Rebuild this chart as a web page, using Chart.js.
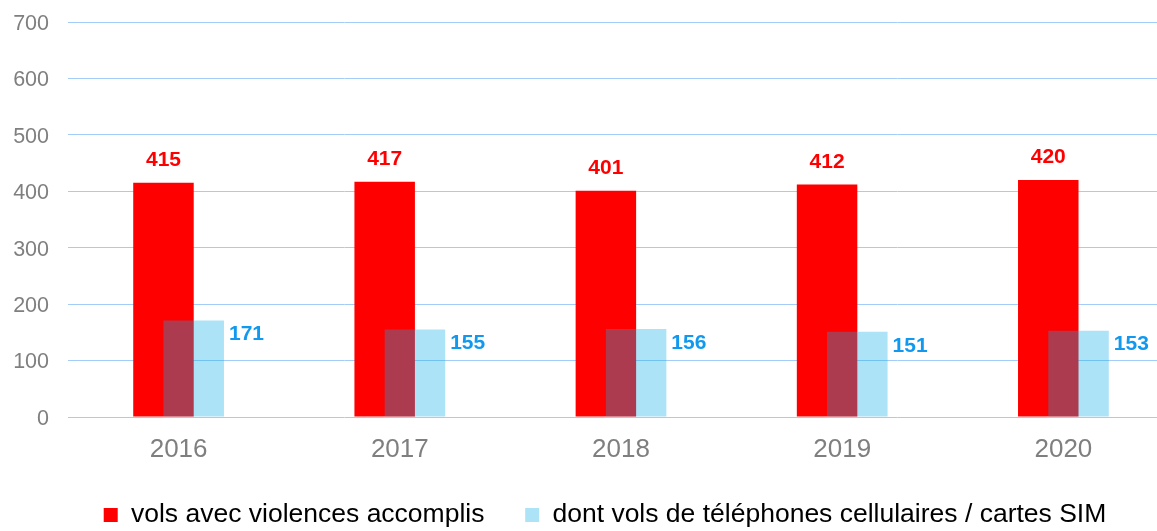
<!DOCTYPE html>
<html>
<head>
<meta charset="utf-8">
<script src="https://cdn.jsdelivr.net/npm/chart.js@4/dist/chart.umd.min.js"></script>
<style>
  html, body { margin: 0; padding: 0; background: #ffffff; overflow: hidden; }
  #wrap { position: relative; width: 1174px; height: 531px; }
</style>
</head>
<body>
<div id="wrap"><canvas id="c"></canvas></div>
<script>
const categories = ['2016', '2017', '2018', '2019', '2020'];
const volsViolences = [415, 417, 401, 412, 420];
const volsTelephones = [171, 155, 156, 151, 153];
const seriesNames = ['vols avec violences accomplis', 'dont vols de téléphones cellulaires / cartes SIM'];
const yTicks = [0, 100, 200, 300, 400, 500, 600, 700];

const FONT = '"Liberation Sans", Arial, sans-serif';
const RED = '#FF0000';
const BLUE_FILL = 'rgba(15,172,231,0.34)';
const RED_LABEL = '#FF0000';
const BLUE_LABEL = '#1199F0';
const GRID = '#A3CDF6';

// draw red series first so the translucent blue series sits on top of it
const drawOrder = {
  id: 'drawOrder',
  beforeDatasetDraw(chart, args) {
    if (args.index === 0) return false;
    if (args.index === 1) chart.getDatasetMeta(0).controller.draw();
  }
};

const legendShift = {
  id: 'legendShift',
  afterLayout(chart) {
    if (chart.legend) { chart.legend.left += 13; chart.legend.right += 13; }
  }
};

const valueLabels = {
  id: 'valueLabels',
  afterDatasetsDraw(chart) {
    const ctx = chart.ctx;
    ctx.save();
    ctx.font = 'bold 21px ' + FONT;
    const m0 = chart.getDatasetMeta(0);
    m0.data.forEach((el, i) => {
      const p = el.getProps(['x', 'y'], true);
      ctx.fillStyle = RED_LABEL;
      ctx.textAlign = 'center';
      ctx.textBaseline = 'alphabetic';
      ctx.fillText(String(volsViolences[i]), p.x, p.y - 17);
    });
    const m1 = chart.getDatasetMeta(1);
    m1.data.forEach((el, i) => {
      const p = el.getProps(['x', 'y', 'width'], true);
      ctx.fillStyle = BLUE_LABEL;
      ctx.textAlign = 'left';
      ctx.textBaseline = 'middle';
      ctx.fillText(String(volsTelephones[i]), p.x + p.width / 2 + 5, p.y + 14);
    });
    ctx.restore();
  }
};

new Chart(document.getElementById('c'), {
  type: 'bar',
  data: {
    labels: categories,
    datasets: [
      { label: seriesNames[0], data: volsViolences, backgroundColor: RED, borderWidth: 0,
        categoryPercentage: 0.2735, barPercentage: 2 },
      { label: seriesNames[1], data: volsTelephones, backgroundColor: BLUE_FILL, borderWidth: 0,
        categoryPercentage: 0.2735, barPercentage: 2 }
    ]
  },
  options: {
    responsive: true,
    maintainAspectRatio: false,
    animation: false,
    layout: { padding: { top: 22, left: 10, right: 0, bottom: -7.25 } },
    plugins: {
      tooltip: { enabled: false },
      legend: {
        position: 'bottom',
        labels: {
          color: '#000000',
          font: { family: FONT, size: 26.5 },
          boxWidth: 14,
          boxHeight: 14,
          padding: 40.75
        }
      }
    },
    scales: {
      x: {
        grid: { display: false, drawTicks: false },
        border: { display: false },
        ticks: { color: '#7F7F7F', font: { family: FONT, size: 26 }, padding: 17.5 },
        afterFit(scale) { scale.height = 44; scale.paddingTop = 0; scale.paddingBottom = 0; }
      },
      y: {
        min: 0, max: 700,
        afterBuildTicks(scale) { scale.ticks = yTicks.map(v => ({ value: v })); },
        grid: { color: GRID, lineWidth: 1, drawTicks: false },
        border: { display: false },
        ticks: { color: '#7F7F7F', font: { family: FONT, size: 21.5 }, padding: 19, labelOffset: 2 },
        afterFit(scale) { scale.width = 58; scale.paddingTop = 0; scale.paddingBottom = 0; }
      }
    }
  },
  plugins: [drawOrder, legendShift, valueLabels]
});
</script>
</body>
</html>
